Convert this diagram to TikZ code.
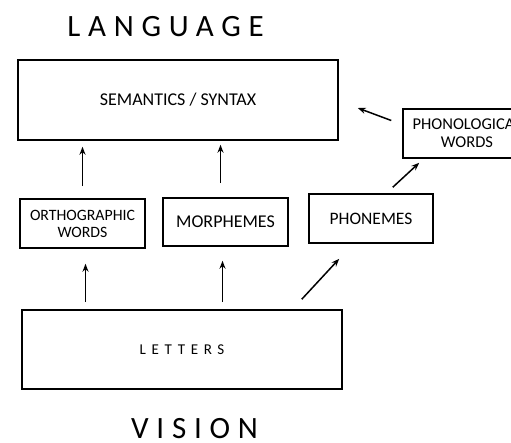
\documentclass[tikz,border=0pt]{standalone}
\usepackage{fontspec}
\setmainfont{Carlito}
\newfontfamily\spacedfont[LetterSpace=25]{Carlito}
\newfontfamily\lettersfont[LetterSpace=38]{Carlito}
\usetikzlibrary{arrows.meta,calc}
\begin{document}
\begin{tikzpicture}[x=1pt, y=-1pt, line width=1.5pt,
    box/.style={draw, inner sep=0pt, font=\fontsize{18}{19}\selectfont, align=center},
    title/.style={inner sep=0pt, font=\spacedfont\fontsize{31}{33}\selectfont},
    up/.style={-{Stealth[length=8pt,width=6pt]}}]
          \useasboundingbox (0,0) rectangle (511,443);
          \clip (0,0) rectangle (511,443);
          \node [title] (lang) at (165.5,27) {LANGUAGE};
          \node [title] (vis) at (194.5,428.5) {VISION};
          \node [box, minimum width=320, minimum height=80] (sem) at (178,100) {SEMANTICS / SYNTAX};
          \node [box, minimum width=128, minimum height=49, font=\fontsize{16.5}{18}\selectfont] (phonol) at (467,133.5) {PHONOLOGICAL\\WORDS};
          \node [box, minimum width=125, minimum height=49, font=\fontsize{15.8}{17}\selectfont] (ortho) at (82.5,223.5) {ORTHOGRAPHIC\\WORDS};
          \node [box, minimum width=125, minimum height=48] (morph) at (225.5,222) {MORPHEMES};
          \node [box, minimum width=124, minimum height=49, font=\fontsize{17.5}{19}\selectfont] (phon) at (371,218.5) {PHONEMES};
          \node [box, minimum width=320, minimum height=79, font=\lettersfont\fontsize{15}{17}\selectfont] (letters) at (182,349.5) {LETTERS};
          \draw [up, shorten <=12pt, shorten >=6pt] (ortho.north) -- (sem.south -| ortho.north);
          \draw [up, shorten <=14pt, shorten >=4pt] ($(morph.north)+(-5,0)$) -- ($(sem.south -| morph.north)+(-5,0)$);
          \draw [up, shorten <=7pt, shorten >=15pt] ($(letters.north -| ortho.south)+(3,0)$) -- ($(ortho.south)+(3,0)$);
          \draw [up, shorten <=7pt, shorten >=14pt] ($(letters.north -| morph.south)+(-3,0)$) -- ($(morph.south)+(-3,0)$);
          \draw [up] ([xshift=-41pt,yshift=10pt]letters.north east) -- ([xshift=31pt,yshift=-15pt]phon.south west);
          \draw [up] ([xshift=-41pt,yshift=6pt]phon.north east) -- ([xshift=17pt,yshift=-4pt]phonol.south west);
          \draw [up] ([xshift=-11pt,yshift=13pt]phonol.west) -- ([xshift=19pt,yshift=-8pt]sem.east);
        \end{tikzpicture}
\end{document}
